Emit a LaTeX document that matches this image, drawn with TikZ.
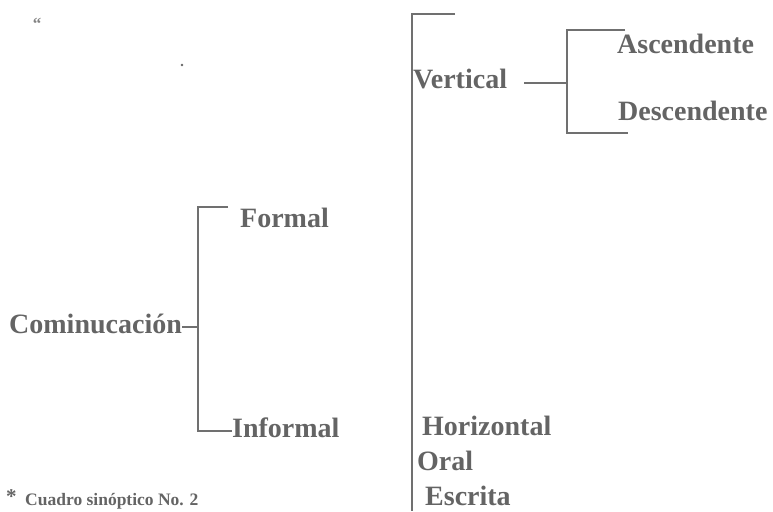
\documentclass[tikz,border=0pt]{standalone}
\usepackage{fontspec}
\setmainfont{Liberation Serif}
\usetikzlibrary{positioning,calc}
\definecolor{txtgray}{HTML}{646464}
\definecolor{lngray}{HTML}{707070}

\begin{document}
\begin{tikzpicture}[x=1pt,y=-1pt,
  lbl/.style={font=\fontsize{28}{30}\selectfont\bfseries,text=txtgray,inner sep=0pt,anchor=base west},
  brk/.style={draw=lngray,line width=1.6pt}]
\useasboundingbox (0,0) rectangle (773,511);
% stray marks of the scan
\node[font=\fontsize{17}{17}\selectfont\bfseries,text=txtgray!80,inner sep=0pt] (quote) at (37,24) {“};
\fill[txtgray] (182,65) circle (1.4pt);
% left bracket
\node[lbl] (com) at (9,333) {Cominucación};
\node[lbl] (formal) at (240,227) {Formal};
\node[lbl] (inf) at (232,437) {Informal};
\coordinate (b1top) at (198,207);
\coordinate (b1bot) at (198,431);
\coordinate (f1) at (228,207);
\draw[brk] ([yshift=6pt]com.base east) -- ([yshift=6pt]com.base east -| b1top);
\draw[brk] (f1) -- (b1top) -- (b1bot) -- ([yshift=6pt]inf.base west);
% right bracket
\coordinate (b2top) at (412,14);
\coordinate (b2bot) at (412,511);
\coordinate (b2tip) at (455,14);
\draw[brk] (b2tip) -- (b2top) -- (b2bot);
\node[lbl] (vert) at (413,88) {Vertical};
\node[lbl] (horiz) at (422,435) {Horizontal};
\node[lbl] (oral) at (417,470) {Oral};
\node[lbl] (escr) at (425,505) {Escrita};
% sub bracket of Vertical
\coordinate (b3top) at (567,30);
\coordinate (b3bot) at (567,133);
\coordinate (b3mid) at (567,83);
\coordinate (a1) at (625,30);
\coordinate (d1) at (628,133);
\draw[brk] (524,83) coordinate (v1) -- (b3mid);
\draw[brk] (a1) -- (b3top) -- (b3bot) -- (d1);
\node[lbl] (asc) at (617,53) {Ascendente};
\node[lbl] (desc) at (618,120) {Descendente};
% note
\node[font=\fontsize{21}{21}\selectfont\bfseries,text=txtgray,inner sep=0pt,anchor=base west] (star) at (6,503) {*};
\node[font=\fontsize{17.5}{17.5}\selectfont\bfseries,text=txtgray,inner sep=0pt,anchor=base west] (note) at (25,505) {Cuadro sinóptico No. 2};
\end{tikzpicture}
\end{document}
